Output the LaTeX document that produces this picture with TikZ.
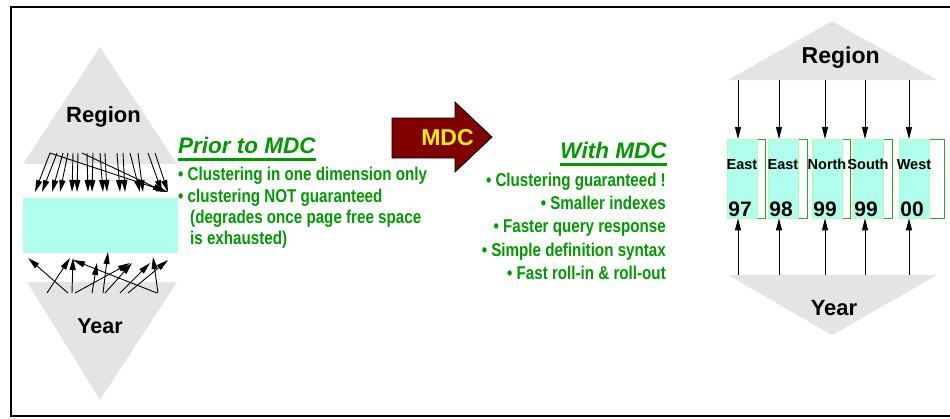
\documentclass[tikz,border=0pt]{standalone}
\usepackage{fontspec}
\setmainfont{Liberation Sans}
\newfontfamily\narrowfont{Liberation Sans}[FakeStretch=0.82]
\usetikzlibrary{arrows.meta}

\definecolor{tri}{RGB}{228,228,228}
\definecolor{aqua}{RGB}{175,255,236}
\definecolor{mdcgreen}{RGB}{0,153,0}
\definecolor{mdcred}{RGB}{128,0,0}
\definecolor{boxgreen}{RGB}{40,170,40}

\tikzset{
  arr/.style={-{Triangle[length=12pt,width=6pt]}, line width=0.9pt},
  dim/.style={font=\bfseries\fontsize{22}{22}\selectfont, inner sep=0pt},
  title/.style={font=\bfseries\itshape\fontsize{22.5}{22.5}\selectfont, text=mdcgreen, inner sep=0pt},
  item/.style={font=\narrowfont\bfseries\fontsize{18.5}{18.5}\selectfont, text=mdcgreen, inner sep=0pt},
  uline/.style={mdcgreen, line width=2.5pt},
  cell/.style={fill=aqua, draw=green!30, minimum width=30pt, minimum height=79pt, inner sep=0pt},
  lbl/.style={font=\bfseries\fontsize{14.5}{14.5}\selectfont, inner sep=0pt},
  num/.style={font=\bfseries\fontsize{21}{21}\selectfont, inner sep=0pt},
}

\begin{document}
\begin{tikzpicture}[x=1pt,y=-1pt]
        \useasboundingbox (0,0) rectangle (950,418);
        \draw[line width=2pt] (952,7) -- (10.5,7) -- (10.5,415.5) -- (952,415.5);

        % left: table clustered on one dimension
        \fill[tri] (23,164) -- (100,47) -- (177,164) -- cycle;
        \fill[tri] (27,282) -- (177,282) -- (100,400) -- cycle;
        \node[dim, anchor=base] (regl) at (103.5,122) {Region};
        \node[dim, font=\bfseries\fontsize{21.5}{21.5}\selectfont, anchor=base] (yearl) at (100,333) {Year};
        \fill[aqua] (23,198) rectangle (178,252.5);
        \foreach \xa/\xb in {50/35, 57/42, 63/52, 68/60, 73/72, 78/77, 87/88, 93/92, 100/103,
                105/107, 117/120, 123/125, 130/140, 138/143, 148/162, 155/168, 50/168, 82/165}
        {
          \coordinate (s) at (\xa,153);
          \coordinate (e) at (\xb,192);
          \draw[arr] (s) -- (e);
        }
        \foreach \xa/\xb/\yb in {47/70/258, 68/28/258, 72/73/258, 75/130/263, 92/97/263, 103/108/252,
                105/132/263, 120/150/263, 128/168/260, 157/73/260, 158/153/257}
        {
          \coordinate (s) at (\xa,293);
          \coordinate (e) at (\xb,\yb);
          \draw[arr] (s) -- (e);
        }

        \node[title, anchor=base west] (prior) at (178,153.3) {Prior to MDC};
        \draw[uline] ([yshift=-6pt]prior.base west) -- ([yshift=-6pt]prior.base east);
        \node[item, anchor=base west] (p1) at (178,180.7) {• Clustering in one dimension only};
        \node[item, anchor=base west] (p2) at (178,202.7) {• clustering NOT guaranteed};
        \node[item, anchor=base west] (p3) at (190,223) {(degrades once page free space};
        \node[item, anchor=base west] (p4) at (190,244) {is exhausted)};

        % block arrow
        \draw[fill=mdcred, line width=0.8pt] (392,118) -- (455,118) -- (455,102) -- (492,137)
                -- (455,172) -- (455,158) -- (392,158) -- cycle;
        \node[font=\bfseries\fontsize{23}{23}\selectfont, text=yellow, inner sep=0pt, anchor=base] (mdc) at (447.5,145) {MDC};

        \node[title, anchor=base east] (with) at (666.7,158.3) {With MDC};
        \draw[uline] ([yshift=-6.3pt]with.base west) -- ([yshift=-6.3pt]with.base east);
        \node[item, anchor=base east] (w1) at (666,186) {• Clustering guaranteed !};
        \node[item, anchor=base east] (w2) at (666,209.3) {• Smaller indexes};
        \node[item, anchor=base east] (w3) at (666,232.7) {• Faster query response};
        \node[item, anchor=base east] (w4) at (666,256.3) {• Simple definition syntax};
        \node[item, anchor=base east] (w5) at (666,279) {• Fast roll-in \& roll-out};

        % right: blocks of the MDC table
        \fill[tri] (728,80) -- (832,21) -- (937,80) -- cycle;
        \fill[tri] (728,275) -- (937,275) -- (832,335) -- cycle;
        \node[dim, font=\bfseries\fontsize{23}{23}\selectfont, anchor=base] (regr) at (840.7,63.3) {Region};
        \node[dim, anchor=base] (yearr) at (834,315) {Year};
        \foreach \i/\xl/\xr/\reg/\yr/\xa in {1/727/765/East/97/738, 2/768/807/East/98/779,
                3/812/850/North/99/825, 4/853/892/South/99/865, 5/899/944/West/00/909}
        {
          \draw[boxgreen, line width=1pt] (\xl,139) rectangle (\xr,218);
          \node[cell, anchor=north west] (cell\i) at (\xl,139) {};
          \node[lbl, anchor=base] (reg\i) at (\xl+15,169.3) {\reg};
          \node[num, anchor=base] (yr\i) at (\xl+13,216) {\yr};
          \coordinate (top\i) at (\xa,80);
          \coordinate (bot\i) at (\xa,275);
          \draw[arr] (top\i) -- (top\i |- cell\i.north);
          \draw[arr] (bot\i) -- (bot\i |- cell\i.south);
        }
\end{tikzpicture}
\end{document}
